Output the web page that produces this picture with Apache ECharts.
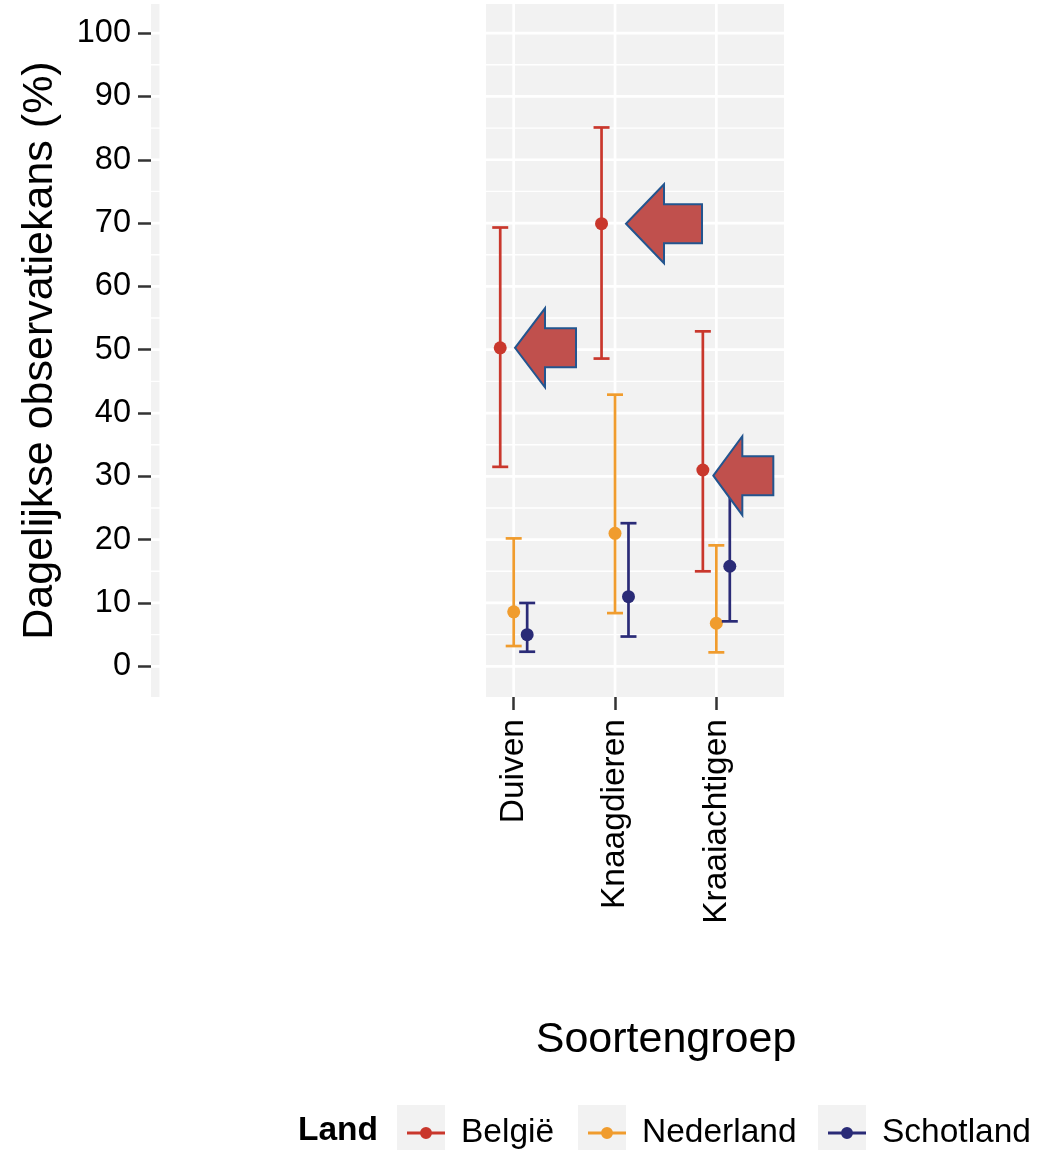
<!DOCTYPE html>
<html><head><meta charset="utf-8">
<script src="https://cdn.jsdelivr.net/npm/echarts@6/dist/echarts.min.js"></script>
<style>html,body{margin:0;padding:0;background:#fff}#c{width:1049px;height:1150px}</style>
</head><body><div id="c"></div>
<script>
// ---------- data ----------
const categories = ['Duiven', 'Knaagdieren', 'Kraaiachtigen'];
const countries = ['België', 'Nederland', 'Schotland'];
// per category: [lower, estimate, upper] (%)
const belgie    = [[31.5, 50.3, 69.3], [48.6, 69.9, 85.1], [15.0, 31.0, 52.9]];
const nederland = [[3.2, 8.6, 20.2],  [8.4, 21.0, 42.9],  [2.2, 6.8, 19.1]];
const schotland = [[2.3, 5.0, 10.0],  [4.7, 11.0, 22.6],  [7.1, 15.8, 30.5]];
const yTicks = [0, 10, 20, 30, 40, 50, 60, 70, 80, 90, 100];
const yMinor = [5, 15, 25, 35, 45, 55, 65, 75, 85, 95];
// annotation arrows: category index and value they point at
const arrowCats = [0, 1, 2];
const arrowValues = [50.3, 69.9, 30.1];

// ---------- styles ----------
const FONT = 'Liberation Sans, Arial, Helvetica, sans-serif';
const colors = ['#C9372C', '#F09C2E', '#2A2B77'];
const dodge = [-0.133, 0, 0.133];
const arrowShapes = [
  {dx: 1.3, head: 30, len: 61},
  {dx: 11, head: 38, len: 76},
  {dx: -3, head: 29, len: 60}
];
const PANEL = '#F2F2F2';

const chart = echarts.init(document.getElementById('c'), null, {renderer: 'canvas'});

function errorSeries(idx, rows) {
  const color = colors[idx];
  const off = dodge[idx];
  return {
    type: 'custom', name: countries[idx], z: 3,
    itemStyle: {color: color},
    data: rows.map((r, i) => [i, r[0], r[1], r[2]]),
    encode: {x: 0, y: [1, 2, 3]},
    renderItem: function (params, api) {
      const c = api.value(0) + off;
      const lo = api.coord([c, api.value(1)]);
      const mid = api.coord([c, api.value(2)]);
      const hi = api.coord([c, api.value(3)]);
      const x = mid[0];
      const st = {stroke: color, lineWidth: 2.7};
      return {type: 'group', children: [
        {type: 'line', shape: {x1: x, y1: hi[1], x2: x, y2: lo[1]}, style: st},
        {type: 'line', shape: {x1: x - 8, y1: hi[1], x2: x + 8, y2: hi[1]}, style: st},
        {type: 'line', shape: {x1: x - 8, y1: lo[1], x2: x + 8, y2: lo[1]}, style: st},
        {type: 'circle', shape: {cx: x, cy: mid[1], r: 6.5}, style: {fill: color}}
      ]};
    }
  };
}

function hLines(values, width) {
  return {
    type: 'custom', z: 1, silent: true,
    data: values.map(v => [0, v]), encode: {x: 0, y: 1},
    renderItem: function (params, api) {
      const cs = params.coordSys;
      const y = api.coord([0, api.value(1)])[1];
      return {type: 'line', shape: {x1: cs.x, y1: y, x2: cs.x + cs.width, y2: y},
        style: {stroke: '#FFFFFF', lineWidth: width}};
    }
  };
}

const vLines = {
  type: 'custom', z: 1, silent: true,
  data: categories.map((c, i) => [i, 0]), encode: {x: 0, y: 1},
  renderItem: function (params, api) {
    const cs = params.coordSys;
    const x = api.coord([api.value(0), 0])[0];
    return {type: 'line', shape: {x1: x, y1: cs.y, x2: x, y2: cs.y + cs.height},
      style: {stroke: '#FFFFFF', lineWidth: 2.7}};
  }
};

const arrows = {
  type: 'custom', z: 6, silent: true,
  data: arrowCats.map((c, i) => [c, arrowValues[i]]), encode: {x: 0, y: 1},
  renderItem: function (params, api) {
    const s = arrowShapes[params.dataIndex];
    const p = api.coord([api.value(0), api.value(1)]);
    const tx = p[0] + s.dx, ty = p[1];
    const hh = 39.5, sh = 19.5;
    return {type: 'polygon', shape: {points: [
      [tx, ty], [tx + s.head, ty - hh], [tx + s.head, ty - sh], [tx + s.len, ty - sh],
      [tx + s.len, ty + sh], [tx + s.head, ty + sh], [tx + s.head, ty + hh]
    ]}, style: {fill: '#C0504D', stroke: '#23558F', lineWidth: 2, lineJoin: 'miter'}};
  }
};

const iconPath = 'path://M0,4.6H38V7.4H0Z M13,6A6,6 0 1,1 25,6A6,6 0 1,1 13,6Z';
const keyLefts = [397, 578, 818];
const legends = countries.map((n, i) => ({
  data: [n], left: keyLefts[i] + 5, top: 1111, orient: 'horizontal',
  itemWidth: 38, itemHeight: 12, icon: iconPath, selectedMode: false,
  formatter: '{t|{name}}',
  textStyle: {fontFamily: FONT, fontSize: 33.5, color: '#000',
    rich: {t: {fontFamily: FONT, fontSize: 33.5, color: '#000', padding: [0, 0, 0, 11]}}}
}));

const graphics = [
  {type: 'rect', z: 2, silent: true, shape: {x: 159.5, y: 0, width: 326.5, height: 698}, style: {fill: '#FFFFFF'}},
  {type: 'text', x: 298, y: 1131, style: {text: 'Land', font: 'bold 33.5px ' + FONT, fill: '#000', align: 'left', verticalAlign: 'middle'}},
  {type: 'text', x: 666, y: 1040, style: {text: 'Soortengroep', font: '43px ' + FONT, fill: '#000', align: 'center', verticalAlign: 'middle'}}
].concat(keyLefts.map(x => ({type: 'rect', z: 0, silent: true, shape: {x: x, y: 1105, width: 48, height: 48}, style: {fill: PANEL}})));

chart.setOption({
  animation: false,
  backgroundColor: '#FFFFFF',
  textStyle: {fontFamily: FONT},
  grid: {left: 151, top: 4, width: 633, height: 693, show: true, backgroundColor: PANEL, borderWidth: 0, outerBoundsMode: 'none', containLabel: false},
  xAxis: {
    type: 'value', min: -3.58, max: 2.668,
    axisLine: {show: false, onZero: false}, splitLine: {show: false},
    axisTick: {show: true, customValues: categories.map((c, i) => i), length: 13, lineStyle: {color: '#333', width: 2.5}},
    axisLabel: {customValues: categories.map((c, i) => i), formatter: v => categories[v] || '',
      rotate: 90, fontSize: 33.5, margin: 22, color: '#000', fontFamily: FONT}
  },
  yAxis: {
    type: 'value', min: -4.85, max: 104.6,
    axisLine: {show: false, onZero: false}, splitLine: {show: false},
    axisTick: {show: true, customValues: yTicks, length: 13, lineStyle: {color: '#333', width: 2.5}},
    axisLabel: {customValues: yTicks, fontSize: 32.5, margin: 20, color: '#000', fontFamily: FONT},
    name: 'Dagelijkse observatiekans (%)', nameLocation: 'middle', nameRotate: 90, nameGap: 89,
    nameMoveOverlap: false,
    nameTextStyle: {fontSize: 43, color: '#000', fontFamily: FONT}
  },
  legend: legends,
  graphic: graphics,
  series: [
    hLines(yMinor, 1.4), hLines(yTicks, 2.7), vLines,
    errorSeries(0, belgie), errorSeries(1, nederland), errorSeries(2, schotland),
    arrows
  ]
});
</script></body></html>
